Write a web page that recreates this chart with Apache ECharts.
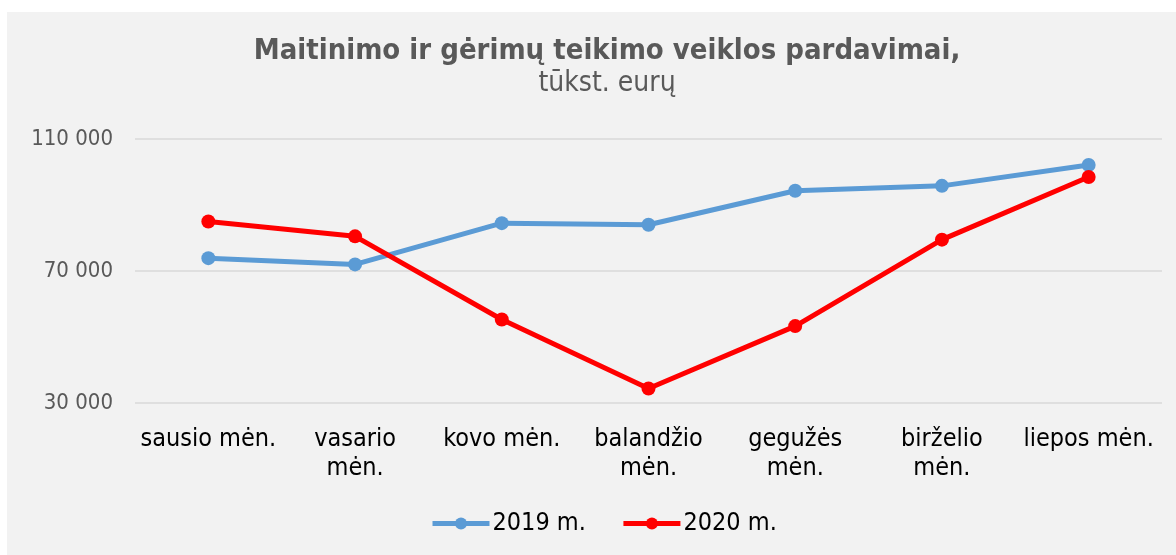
<!DOCTYPE html>
<html>
<head>
<meta charset="utf-8">
<script src="https://cdn.jsdelivr.net/npm/echarts@6/dist/echarts.min.js"></script>
<style>
  body { margin: 0; background: #ffffff; }
  #line {
    position: absolute;
    left: 7px;
    top: 12px;
    width: 1169px;
    height: 543px;
    background: #f2f2f2;
  }
</style>
</head>
<body>
<div id="line"></div>
<script>
// duomenys
const months = ['sausio mėn.', 'vasario\nmėn.', 'kovo mėn.', 'balandžio\nmėn.', 'gegužės\nmėn.', 'birželio\nmėn.', 'liepos mėn.']
const sales2019 = [73900, 72000, 84500, 84000, 94300, 95800, 102100]
const sales2020 = [85000, 80500, 55300, 34400, 53300, 79500, 98500]
const seriesNames = ['2019 m.', '2020 m.']
const yTicks = [30000, 70000, 110000]

const font = '"DejaVu Sans Condensed", "DejaVu Sans", sans-serif'

const myChart = echarts.init(document.getElementById('line'))
myChart.setOption({
  animation: false,
  textStyle: { fontFamily: font },
  title: {
    text: 'Maitinimo ir gėrimų teikimo veiklos pardavimai,',
    subtext: 'tūkst. eurų',
    left: 595,
    textAlign: 'center',
    top: 20,
    itemGap: 4,
    textStyle: { fontFamily: font, fontSize: 29, fontWeight: 'bold', color: '#595959' },
    subtextStyle: { fontFamily: font, fontSize: 28, color: '#595959' }
  },
  grid: { left: 128, right: 14, top: 127, bottom: 152 },
  xAxis: {
    type: 'category',
    data: months,
    boundaryGap: true,
    axisLine: { show: false },
    axisTick: { show: false },
    axisLabel: {
      interval: 0,
      margin: 22,
      fontFamily: font,
      fontSize: 25,
      lineHeight: 29,
      color: '#000000'
    }
  },
  yAxis: {
    type: 'value',
    min: yTicks[0],
    max: yTicks[yTicks.length - 1],
    interval: yTicks[1] - yTicks[0],
    axisLine: { show: false },
    axisTick: { show: false },
    splitLine: { lineStyle: { color: '#d9d9d9', width: 1.5 } },
    axisLabel: {
      margin: 22,
      fontFamily: font,
      fontSize: 22,
      color: '#595959',
      formatter: function (v) {
        return String(v).replace(/\B(?=(\d{3})+(?!\d))/g, ' ')
      }
    }
  },
  legend: {
    data: seriesNames,
    left: 418,
    top: 494,
    itemWidth: 57,
    itemHeight: 15,
    itemGap: 35,
    textStyle: { fontFamily: font, fontSize: 25, color: '#000000', padding: [0, 0, 0, -2] },
    lineStyle: { width: 5 }
  },
  series: [
    {
      name: seriesNames[0],
      type: 'line',
      data: sales2019,
      symbol: 'circle',
      symbolSize: 14,
      lineStyle: { width: 5, color: '#5b9bd5' },
      itemStyle: { color: '#5b9bd5' }
    },
    {
      name: seriesNames[1],
      type: 'line',
      data: sales2020,
      symbol: 'circle',
      symbolSize: 14,
      lineStyle: { width: 5, color: '#ff0000' },
      itemStyle: { color: '#ff0000' }
    }
  ]
})
</script>
</body>
</html>
